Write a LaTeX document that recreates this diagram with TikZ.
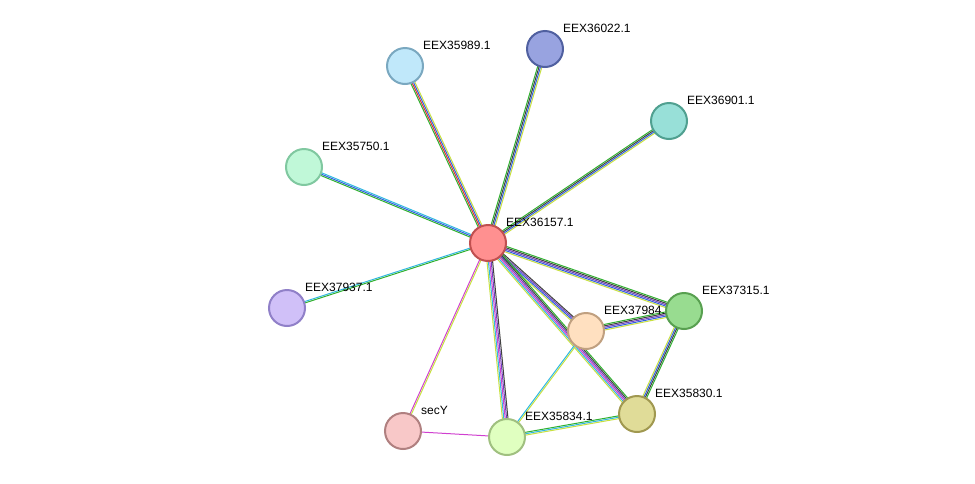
\documentclass[tikz,border=0pt]{standalone}
\usepackage{fontspec}
\setmainfont{Liberation Sans}
\usetikzlibrary{calc}

\definecolor{tmyel}{HTML}{C8E040}
\definecolor{dbblue}{HTML}{3060E0}
\definecolor{nbcyan}{HTML}{30B8E0}
\definecolor{exmag}{HTML}{D040D0}
\definecolor{cogreen}{HTML}{30B030}
\definecolor{hopurp}{HTML}{7040C0}
\definecolor{cxblack}{HTML}{404040}
\definecolor{fsred}{HTML}{E03030}

\tikzset{
  protein/.style={circle, draw, line width=2pt, minimum size=36pt, inner sep=0pt},
  lbl/.style={font=\fontsize{12}{14}\selectfont, anchor=south west, inner sep=0pt}
}

% bundle of parallel coloured lines between two nodes
\newcommand{\bundle}[4]{%
  \foreach \c [count=\k] in {#4}{%
    \pgfmathsetmacro{\o}{(\k-(#3+1)/2)*1.4}
    \draw[\c, line width=1pt] ($(#1)!\o pt!90:(#2)$) -- ($(#2)!\o pt!-90:(#1)$);
  }}

\begin{document}
\begin{tikzpicture}[x=1pt, y=-1pt]
  \useasboundingbox (0,0) rectangle (975,483);

  \coordinate (c157) at (488,243);
  \coordinate (c989) at (405,66);
  \coordinate (c022) at (545,49);
  \coordinate (c901) at (669,121);
  \coordinate (c750) at (304,167);
  \coordinate (c937) at (287,308);
  \coordinate (c315) at (684,311);
  \coordinate (c984) at (586,331);
  \coordinate (c830) at (637,414);
  \coordinate (c834) at (507,437);
  \coordinate (csecy) at (403,431);

  % edges
  \bundle{c157}{c989}{4}{tmyel,dbblue,fsred,cogreen}
  \bundle{c157}{c022}{4}{tmyel,dbblue,cxblack,cogreen}
  \bundle{c157}{c901}{4}{tmyel,dbblue,cxblack,cogreen}
  \bundle{c157}{c750}{3}{nbcyan,dbblue,cogreen}
  \bundle{c157}{c937}{2}{nbcyan,cogreen}
  \bundle{c157}{c315}{5}{tmyel,dbblue,hopurp,cxblack,cogreen}
  \bundle{c157}{c984}{4}{tmyel,dbblue,hopurp,cxblack}
  \bundle{c157}{c830}{6}{tmyel,nbcyan,exmag,hopurp,cxblack,cogreen}
  \bundle{c157}{c834}{5}{tmyel,nbcyan,exmag,hopurp,cxblack}
  \bundle{c157}{csecy}{2}{exmag,tmyel}
  \bundle{csecy}{c834}{1}{exmag}
  \bundle{c834}{c830}{3}{tmyel,nbcyan,cogreen}
  \bundle{c834}{c984}{2}{tmyel,nbcyan}
  \bundle{c984}{c315}{5}{tmyel,dbblue,hopurp,cxblack,cogreen}
  \bundle{c315}{c830}{4}{tmyel,dbblue,cxblack,cogreen}

  % proteins
  \node[protein, fill={rgb,255:red,192;green,232;blue,250}, draw={rgb,255:red,122;green,168;blue,192}] (n989) at (c989) {};
  \node[lbl] at ($(c989)+(18,-16)$) {EEX35989.1};
  \node[protein, fill={rgb,255:red,152;green,163;blue,224}, draw={rgb,255:red,80;green,96;blue,160}] (n022) at (c022) {};
  \node[lbl] at ($(c022)+(18,-16)$) {EEX36022.1};
  \node[protein, fill={rgb,255:red,152;green,224;blue,216}, draw={rgb,255:red,80;green,160;blue,144}] (n901) at (c901) {};
  \node[lbl] at ($(c901)+(18,-16)$) {EEX36901.1};
  \node[protein, fill={rgb,255:red,192;green,248;blue,216}, draw={rgb,255:red,128;green,200;blue,160}] (n750) at (c750) {};
  \node[lbl] at ($(c750)+(18,-16)$) {EEX35750.1};
  \node[protein, fill={rgb,255:red,208;green,192;blue,248}, draw={rgb,255:red,144;green,128;blue,200}] (n937) at (c937) {};
  \node[lbl] at ($(c937)+(18,-16)$) {EEX37937.1};
  \node[protein, fill={rgb,255:red,255;green,224;blue,192}, draw={rgb,255:red,192;green,160;blue,128}] (n984) at (c984) {};
  \node[lbl] at ($(c984)+(18,-16)$) {EEX37984.1};
  \node[protein, fill={rgb,255:red,152;green,220;blue,144}, draw={rgb,255:red,88;green,160;blue,80}] (n315) at (c315) {};
  \node[lbl] at ($(c315)+(18,-16)$) {EEX37315.1};
  \node[protein, fill={rgb,255:red,224;green,220;blue,152}, draw={rgb,255:red,160;green,152;blue,80}] (n830) at (c830) {};
  \node[lbl] at ($(c830)+(18,-16)$) {EEX35830.1};
  \node[protein, fill={rgb,255:red,224;green,255;blue,192}, draw={rgb,255:red,160;green,192;blue,128}] (n834) at (c834) {};
  \node[lbl] at ($(c834)+(18,-16)$) {EEX35834.1};
  \node[protein, fill={rgb,255:red,248;green,200;blue,200}, draw={rgb,255:red,176;green,128;blue,128}] (nsecy) at (csecy) {};
  \node[lbl] at ($(csecy)+(18,-16)$) {secY};
  \node[protein, fill={rgb,255:red,255;green,144;blue,144}, draw={rgb,255:red,192;green,80;blue,80}] (n157) at (c157) {};
  \node[lbl] at ($(c157)+(18,-16)$) {EEX36157.1};
\end{tikzpicture}
\end{document}
